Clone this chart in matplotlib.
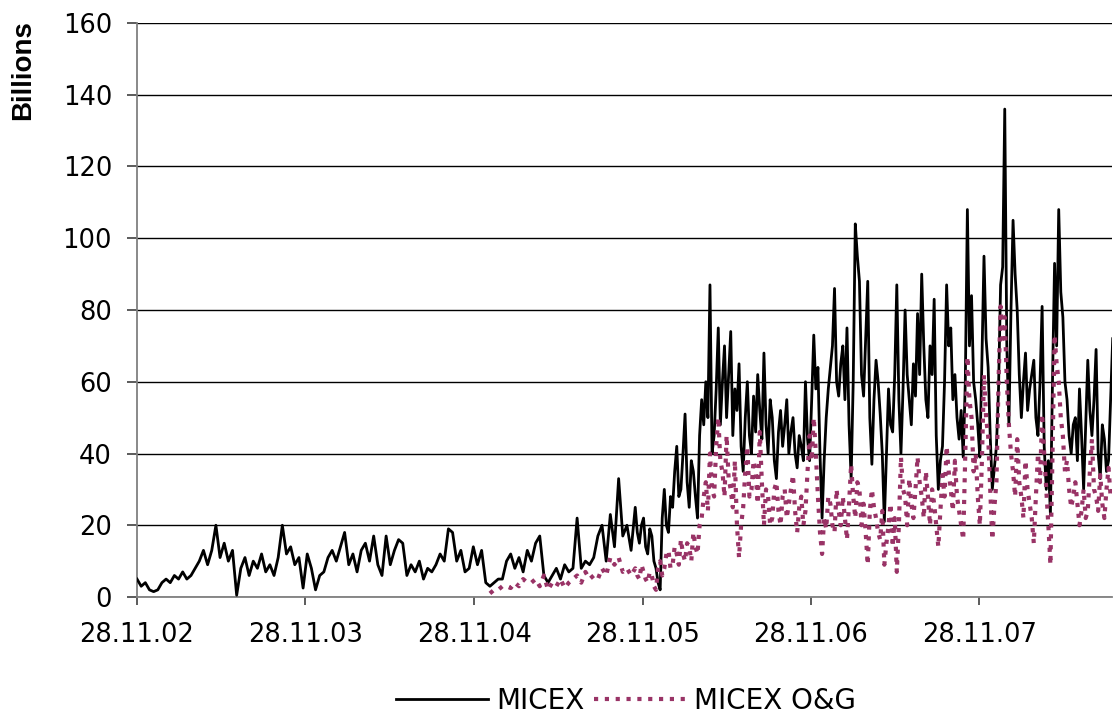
import numpy as np
import pandas as pd
import matplotlib
matplotlib.use('Agg')
import matplotlib.pyplot as plt
import matplotlib.dates as mdates

plt.rcParams['font.family'] = ['DejaVu Sans']

# ************* data (billions) *************
# up to Nov 2005: one value every 9 days from 28.11.2002
micex_early = [5, 3, 4, 2, 1.5, 2, 4, 5, 4, 6,
               5, 7, 5, 6, 8, 10, 13, 9, 13, 20,
               11, 15, 10, 13, 0.5, 8, 11, 6, 10, 8,
               12, 7, 9, 6, 11, 20, 12, 14, 9, 11,
               2.5, 12, 8, 2, 6, 7, 11, 13, 10, 14,
               18, 9, 12, 7, 13, 15, 10, 17, 9, 6,
               17, 9, 13, 16, 15, 6, 9, 7, 10, 5,
               8, 7, 9, 12, 10, 19, 18, 10, 13, 7,
               8, 14, 9, 13, 4, 3, 4, 5, 5, 10,
               12, 8, 11, 7, 13, 10, 15, 17, 6, 4,
               6, 8, 5, 9, 7, 8, 22, 8, 10, 9,
               11, 17, 20, 10, 23, 14, 33, 17, 20, 13]

# from Nov 2005: one value every 4.5 days
micex_late = [25, 18, 15, 20, 22, 14, 12, 19, 17, 10, 8, 4, 2, 22, 30, 20, 18, 28, 25, 35,
              42, 28, 30, 40, 51, 32, 25, 38, 35, 28, 22, 45, 55, 48, 60, 50, 87, 40, 45, 58,
              75, 48, 60, 70, 50, 62, 74, 45, 58, 52, 65, 42, 35, 50, 60, 45, 40, 56, 46, 62,
              52, 44, 68, 48, 40, 55, 50, 38, 33, 46, 52, 42, 48, 55, 40, 46, 50, 40, 36, 45,
              42, 38, 60, 44, 38, 55, 73, 58, 64, 40, 22, 38, 50, 58, 64, 70, 86, 60, 56, 65,
              70, 55, 75, 48, 33, 60, 104, 95, 88, 62, 56, 72, 88, 50, 37, 55, 66, 60, 51, 40,
              21, 40, 58, 48, 46, 62, 87, 55, 40, 58, 80, 62, 55, 48, 65, 56, 79, 62, 90, 70,
              55, 50, 70, 62, 83, 45, 30, 38, 42, 60, 87, 70, 75, 55, 62, 50, 44, 52, 39, 60,
              108, 70, 84, 60, 55, 48, 39, 66, 95, 72, 64, 45, 30, 36, 42, 58, 87, 92, 136, 70,
              48, 80, 105, 90, 80, 62, 50, 60, 68, 52, 58, 62, 66, 50, 45, 60, 81, 42, 30, 38,
              23, 60, 93, 70, 108, 85, 78, 60, 55, 45, 40, 48, 50, 38, 58, 45, 30, 48, 66, 52,
              45, 55, 69, 40, 33, 48, 44, 35, 38, 55, 72]

og_early = [1, 2, 2, 3, 3, 2.5, 4, 3, 5, 4,
            4, 5, 3, 6, 2, 4, 3, 5, 2.5, 4,
            5, 6, 4, 7, 5, 6, 5, 8, 6, 11,
            9, 11, 7, 8, 6]

og_late = [8, 6, 5, 9, 7, 5, 4, 7, 6, 3,
           2, 8, 10, 6, 8, 12, 13, 8, 9, 14, 12, 9, 16, 12, 10, 15, 14, 10, 18, 14,
           12, 20, 22, 28, 32, 24, 40, 30, 28, 42, 50, 38, 35, 28, 45, 33, 30, 25, 38, 20,
           11, 20, 25, 35, 42, 28, 30, 38, 35, 26, 46, 32, 20, 30, 28, 20, 22, 30, 32, 24,
           20, 28, 30, 22, 26, 30, 34, 24, 18, 25, 28, 20, 24, 35, 45, 38, 50, 40, 28, 18,
           12, 22, 19, 28, 26, 20, 18, 30, 24, 20, 28, 22, 16, 26, 37, 28, 22, 32, 30, 20,
           26, 18, 9, 24, 30, 25, 22, 18, 16, 24, 9, 15, 20, 26, 14, 22, 7, 20, 39, 30,
           28, 20, 33, 26, 22, 30, 39, 32, 28, 22, 35, 28, 20, 30, 26, 20, 14, 24, 34, 28,
           42, 35, 30, 24, 38, 28, 24, 20, 16, 40, 67, 55, 50, 35, 40, 28, 20, 38, 62, 50,
           45, 30, 16, 25, 32, 60, 81, 72, 78, 60, 48, 40, 35, 28, 44, 32, 28, 22, 38, 30,
           26, 22, 15, 28, 40, 32, 51, 40, 30, 20, 9, 40, 73, 65, 60, 50, 45, 35, 38, 30,
           25, 28, 32, 26, 20, 24, 30, 22, 24, 35, 44, 30, 28, 24, 34, 26, 22, 30, 36, 28, 30]

tick_dates = ['2002-11-28', '2003-11-28', '2004-11-28',
              '2005-11-28', '2006-11-28', '2007-11-28']

early_dates = pd.date_range('2002-11-28', periods=len(micex_early), freq='9D')
late_dates = pd.date_range(early_dates[-1] + pd.Timedelta(days=9),
                           periods=len(micex_late), freq='108h')

dates = early_dates.append(late_dates)
micex = micex_early + micex_late
og_dates = early_dates[-len(og_early):].append(late_dates)
micex_og = og_early + og_late

# ************* figure *************
fig = plt.figure(figsize=(11.14, 7.18), dpi=100)
ax = fig.add_axes([0.123, 0.1685, 0.875, 0.7995])

ax.plot(dates, micex, color='black', lw=2.0, label='MICEX', zorder=3)
ax.plot(og_dates, micex_og, color='#993366', lw=3.0,
        linestyle=(0, (1, 1.6)), dash_capstyle='butt',
        label='MICEX O&G', zorder=4)

ax.set_ylim(0, 160)
ax.set_yticks(np.arange(0, 161, 20))
start = pd.Timestamp('2002-11-28')
ax.set_xlim(start, start + pd.Timedelta(days=2113))
ax.set_xticks(pd.to_datetime(tick_dates))
ax.xaxis.set_major_formatter(mdates.DateFormatter('%d.%m.%y'))

ax.yaxis.grid(True, color='black', lw=1.0)
ax.set_axisbelow(True)
for s in ['top', 'right']:
    ax.spines[s].set_visible(False)
for s in ['left', 'bottom']:
    ax.spines[s].set_color('#808080')
    ax.spines[s].set_linewidth(1.3)

ax.tick_params(axis='both', labelsize=18.5, width=1.2, color='#404040')
ax.tick_params(axis='y', length=7, pad=11)
ax.tick_params(axis='x', length=6, pad=12)

fig.text(0.0206, 0.972, 'Billions', rotation=90, ha='center', va='top',
         fontsize=20, fontweight='bold', family='Liberation Sans')

fig.legend(loc='center', bbox_to_anchor=(0.562, 0.024), ncol=2, frameon=False,
           fontsize=20, handlelength=3.3, handletextpad=0.3, columnspacing=0.36)

fig.savefig('out.png', dpi=100)
